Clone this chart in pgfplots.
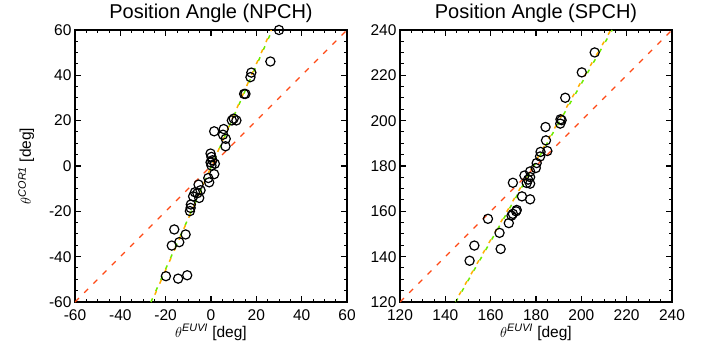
\documentclass[border=0pt]{standalone}
\usepackage{amsmath}
\usepackage{pgfplots}
\pgfplotsset{compat=1.18}
\usepackage{fontspec}
\setmainfont{Liberation Sans}
\definecolor{fitred}{RGB}{255,72,20}
\definecolor{fitgreen}{RGB}{110,235,0}
\definecolor{fityellow}{RGB}{255,175,0}
\tikzset{
  mjt/.style={black, line width=1.2pt},
  mnt/.style={black, line width=1.0pt},
}
\pgfplotsset{
  pa/.style={
    scale only axis, width=272pt, height=272pt,
    axis line style={line width=1.3pt},
    major tick style={black, line width=1.2pt},
    minor tick style={black, line width=1.0pt},
    major tick length=6pt, minor tick length=3.5pt,
    minor tick num=3,
    ticklabel style={font=\fontsize{15.5}{16}\selectfont},
    xticklabel style={yshift=-4pt},
    /pgf/number format/assume math mode=true,
    title style={font=\fontsize{20}{21}\selectfont, yshift=-2pt},
    xlabel style={font=\fontsize{15.5}{16}\selectfont, yshift=3pt},
    ylabel style={font=\fontsize{15.5}{16}\selectfont, yshift=8pt},
    xlabel={$\theta^{\textit{EUVI}}$ [deg]},
  },
  pts/.style={only marks, mark=o, mark size=4.6pt, mark options={line width=1.2pt, black}},
  redl/.style={no marks, fitred, line width=1.2pt, dash pattern=on 5.5pt off 7.5pt},
  grnl/.style={no marks, fitgreen, line width=1.5pt, dash pattern=on 4pt off 8pt, dash phase=0pt},
  yell/.style={no marks, fityellow, line width=1.5pt, dash pattern=on 4pt off 8pt, dash phase=4pt},
}
\begin{document}
\begin{tikzpicture}
\useasboundingbox (-75pt,-43pt) rectangle (631pt,302pt);
\begin{axis}[pa, title={Position Angle (NPCH)},
  ylabel={$\theta^{\textit{COR1}}$ [deg]},
  xmin=-60, xmax=60, ymin=-60, ymax=60,
  xtick={-60,-40,...,60}, ytick={-60,-40,...,60}]
\addplot[redl] coordinates {(-60,-60) (60,60)};
\addplot[grnl] coordinates {(-26.5,-60) (27.0,60)};
\addplot[yell] coordinates {(-26.2,-60) (26.6,60)};
\addplot[pts] coordinates {
(30.0,60.0) (26.2,46.1) (17.8,41.2) (17.4,39.2) (14.6,31.8) (15.2,31.8)
(10.0,20.9) (11.2,20.1) (9.2,20.1) (1.4,15.3) (5.6,16.3) (5.3,13.8)
(6.5,12.0) (6.4,8.7) (-0.2,5.5) (0.2,4.0) (-0.2,1.6) (1.7,1.0) (0.2,0.2)
(0.6,2.5) (1.4,-3.6) (-1.2,-5.3) (-0.8,-7.2) (-5.5,-8.2) (-4.6,-10.7)
(-7.1,-11.6) (-7.9,-13.4) (-5.2,-14.1) (-6.0,-12.0) (-8.9,-17.0) (-9.0,-18.5) (-9.3,-19.9)
(-16.2,-28.0) (-11.2,-30.2) (-14.0,-33.6) (-17.3,-35.1)
(-19.9,-48.6) (-14.5,-49.7) (-10.5,-48.2)
};
\pgfplotsinvokeforeach{-40,-20,0,20,40}{
  \draw[mjt] (axis cs:#1,-60) -- ++(0pt,6pt);
  \draw[mjt] (axis cs:#1,60) -- ++(0pt,-6pt);
  \draw[mjt] (axis cs:-60,#1) -- ++(6pt,0pt);
  \draw[mjt] (axis cs:60,#1) -- ++(-6pt,0pt);
}
\pgfplotsinvokeforeach{-55,-50,-45,-35,-30,-25,-15,-10,-5,5,10,15,25,30,35,45,50,55}{
  \draw[mnt] (axis cs:#1,-60) -- ++(0pt,3.5pt);
  \draw[mnt] (axis cs:#1,60) -- ++(0pt,-3.5pt);
  \draw[mnt] (axis cs:-60,#1) -- ++(3.5pt,0pt);
  \draw[mnt] (axis cs:60,#1) -- ++(-3.5pt,0pt);
}
\end{axis}
\begin{axis}[pa, at={(325pt,0pt)}, title={Position Angle (SPCH)},
  xmin=120, xmax=240, ymin=120, ymax=240,
  xtick={120,140,...,240}, ytick={120,140,...,240}]
\addplot[redl] coordinates {(120,120) (240,240)};
\addplot[grnl] coordinates {(144.6,120) (213.6,240)};
\addplot[yell] coordinates {(144.3,120) (213.0,240)};
\addplot[pts] coordinates {
(205.9,230.1) (200.2,221.3) (192.9,210.1) (190.8,200.6) (191.3,200.2) (190.7,198.7)
(184.2,197.2) (184.4,191.3) (185.0,186.6) (182.0,186.2) (181.8,184.2)
(180.3,181.3) (179.9,179.1) (177.4,177.6) (174.9,175.8) (177.4,175.1)
(175.9,172.5) (177.4,172.2) (176.5,174.0) (169.8,172.6) (173.8,166.6) (177.4,165.3)
(171.5,160.6) (171.2,160.0) (169.8,158.9) (169.2,158.1) (168.0,154.8)
(158.8,156.7) (163.9,150.5) (152.8,144.9) (164.4,143.4) (150.7,138.2)
};
\pgfplotsinvokeforeach{140,160,180,200,220}{
  \draw[mjt] (axis cs:#1,120) -- ++(0pt,6pt);
  \draw[mjt] (axis cs:#1,240) -- ++(0pt,-6pt);
  \draw[mjt] (axis cs:120,#1) -- ++(6pt,0pt);
  \draw[mjt] (axis cs:240,#1) -- ++(-6pt,0pt);
}
\pgfplotsinvokeforeach{125,130,135,145,150,155,165,170,175,185,190,195,205,210,215,225,230,235}{
  \draw[mnt] (axis cs:#1,120) -- ++(0pt,3.5pt);
  \draw[mnt] (axis cs:#1,240) -- ++(0pt,-3.5pt);
  \draw[mnt] (axis cs:120,#1) -- ++(3.5pt,0pt);
  \draw[mnt] (axis cs:240,#1) -- ++(-3.5pt,0pt);
}
\end{axis}
\end{tikzpicture}
\end{document}
